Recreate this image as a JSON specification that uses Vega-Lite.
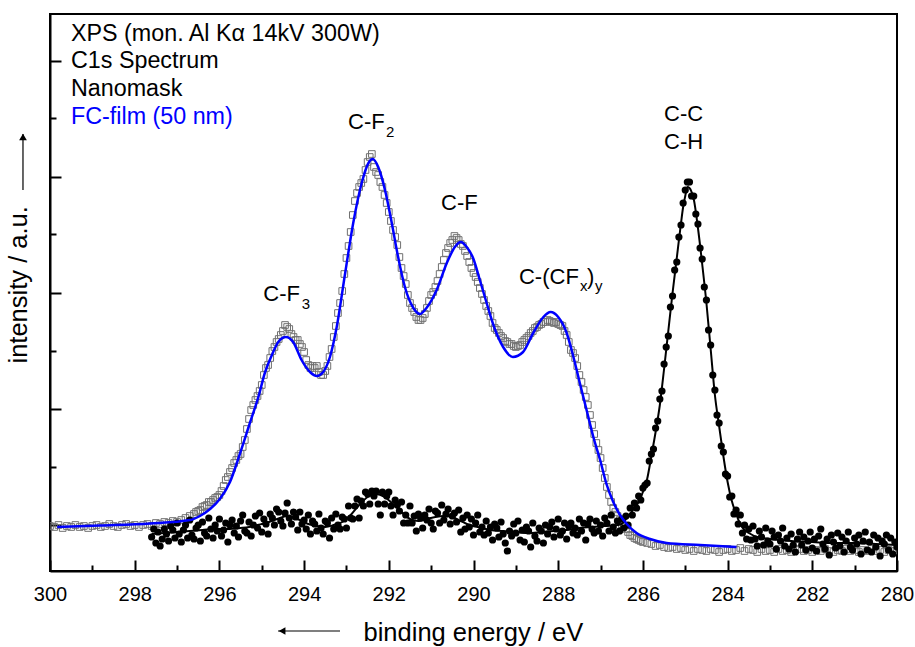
{
"$schema":"https://vega.github.io/schema/vega-lite/v6.json",
"width":847,"height":557,
"autosize":{"type":"none"},
"padding":{"left":50,"top":14,"right":18,"bottom":76},
"background":"white",
"datasets":{
"film":[{"e":300,"i":45},{"e":299.9,"i":44},{"e":299.8,"i":46},{"e":299.7,"i":43},{"e":299.6,"i":45},{"e":299.5,"i":44},{"e":299.4,"i":46},{"e":299.3,"i":44},{"e":299.2,"i":45},{"e":299.1,"i":43},{"e":299,"i":45},{"e":298.9,"i":46},{"e":298.8,"i":44},{"e":298.7,"i":45},{"e":298.6,"i":47},{"e":298.5,"i":45},{"e":298.4,"i":44},{"e":298.3,"i":46},{"e":298.2,"i":47},{"e":298.1,"i":45},{"e":298,"i":46},{"e":297.9,"i":44},{"e":297.8,"i":46},{"e":297.7,"i":47},{"e":297.6,"i":45},{"e":297.5,"i":48},{"e":297.4,"i":47},{"e":297.3,"i":49},{"e":297.2,"i":48},{"e":297.1,"i":50},{"e":297,"i":49},{"e":296.9,"i":51},{"e":296.8,"i":53},{"e":296.7,"i":55},{"e":296.6,"i":57},
{"e":296.55,"i":59},{"e":296.5,"i":60},{"e":296.45,"i":61},{"e":296.4,"i":64},{"e":296.35,"i":65},{"e":296.3,"i":66},{"e":296.25,"i":69},{"e":296.2,"i":69},{"e":296.15,"i":71},{"e":296.1,"i":73},{"e":296.05,"i":74},{"e":296,"i":76},{"e":295.95,"i":80},{"e":295.9,"i":85},{"e":295.85,"i":91},{"e":295.8,"i":94},{"e":295.75,"i":99},{"e":295.7,"i":103},{"e":295.65,"i":108},{"e":295.6,"i":111},{"e":295.55,"i":115},{"e":295.5,"i":117},{"e":295.45,"i":124},{"e":295.4,"i":131},{"e":295.35,"i":142},{"e":295.3,"i":152},{"e":295.25,"i":161},{"e":295.2,"i":166},{"e":295.15,"i":171},{"e":295.1,"i":175},{"e":295.05,"i":180},{"e":295,"i":186},{"e":294.95,"i":196},{"e":294.9,"i":203},{"e":294.85,"i":206},{"e":294.8,"i":213},{"e":294.75,"i":220},{"e":294.7,"i":224},{"e":294.65,"i":229},{"e":294.6,"i":232},{"e":294.55,"i":236},{"e":294.5,"i":240},{"e":294.45,"i":246},{"e":294.4,"i":244},{"e":294.35,"i":242},{"e":294.3,"i":237},{"e":294.25,"i":234},{"e":294.2,"i":231},{"e":294.15,"i":231},{"e":294.1,"i":227},{"e":294.05,"i":224},{"e":294,"i":219},{"e":293.95,"i":211},{"e":293.9,"i":206},{"e":293.85,"i":203},{"e":293.8,"i":205},{"e":293.75,"i":203},{"e":293.7,"i":205},{"e":293.65,"i":199},{"e":293.6,"i":196},{"e":293.55,"i":196},{"e":293.5,"i":200},{"e":293.45,"i":205},{"e":293.4,"i":214},{"e":293.35,"i":222},{"e":293.3,"i":234},{"e":293.25,"i":245},{"e":293.2,"i":258},{"e":293.15,"i":268},{"e":293.1,"i":280},{"e":293.05,"i":297},{"e":293,"i":313},{"e":292.95,"i":325},{"e":292.9,"i":339},{"e":292.85,"i":356},{"e":292.8,"i":370},{"e":292.75,"i":378},{"e":292.7,"i":384},{"e":292.65,"i":388},{"e":292.6,"i":392},{"e":292.55,"i":401},{"e":292.5,"i":409},{"e":292.45,"i":414},{"e":292.4,"i":417},{"e":292.35,"i":404},{"e":292.3,"i":399},{"e":292.25,"i":396},{"e":292.2,"i":389},{"e":292.15,"i":384},{"e":292.1,"i":376},{"e":292.05,"i":368},{"e":292,"i":359},{"e":291.95,"i":350},{"e":291.9,"i":341},{"e":291.85,"i":334},{"e":291.8,"i":326},{"e":291.75,"i":314},{"e":291.7,"i":303},{"e":291.65,"i":295},{"e":291.6,"i":287},{"e":291.55,"i":276},{"e":291.5,"i":268},{"e":291.45,"i":263},{"e":291.4,"i":259},{"e":291.35,"i":254},{"e":291.3,"i":251},{"e":291.25,"i":251},{"e":291.2,"i":253},{"e":291.15,"i":257},{"e":291.1,"i":263},{"e":291.05,"i":270},{"e":291,"i":276},{"e":290.95,"i":279},{"e":290.9,"i":284},{"e":290.85,"i":290},{"e":290.8,"i":297},{"e":290.75,"i":304},{"e":290.7,"i":311},{"e":290.65,"i":318},{"e":290.6,"i":323},{"e":290.55,"i":328},{"e":290.5,"i":331},{"e":290.45,"i":335},{"e":290.4,"i":333},{"e":290.35,"i":331},{"e":290.3,"i":327},{"e":290.25,"i":325},{"e":290.2,"i":320},{"e":290.15,"i":315},{"e":290.1,"i":309},{"e":290.05,"i":303},{"e":290,"i":298},{"e":289.95,"i":294},{"e":289.9,"i":289},{"e":289.85,"i":283},{"e":289.8,"i":277},{"e":289.75,"i":271},{"e":289.7,"i":265},{"e":289.65,"i":260},{"e":289.6,"i":255},{"e":289.55,"i":248},{"e":289.5,"i":243},{"e":289.45,"i":241},{"e":289.4,"i":238},{"e":289.35,"i":235},{"e":289.3,"i":233},{"e":289.25,"i":230},{"e":289.2,"i":229},{"e":289.15,"i":227},{"e":289.1,"i":227},{"e":289.05,"i":225},{"e":289,"i":224},{"e":288.95,"i":225},{"e":288.9,"i":226},{"e":288.85,"i":229},{"e":288.8,"i":231},{"e":288.75,"i":233},{"e":288.7,"i":235},{"e":288.65,"i":238},{"e":288.6,"i":240},{"e":288.55,"i":243},{"e":288.5,"i":244},{"e":288.45,"i":246},{"e":288.4,"i":247},{"e":288.35,"i":249},{"e":288.3,"i":249},{"e":288.25,"i":251},{"e":288.2,"i":250},{"e":288.15,"i":249},{"e":288.1,"i":248},{"e":288.05,"i":249},{"e":288,"i":247},{"e":287.95,"i":246},{"e":287.9,"i":245},{"e":287.85,"i":240},{"e":287.8,"i":236},{"e":287.75,"i":229},{"e":287.7,"i":221},{"e":287.65,"i":218},{"e":287.6,"i":213},{"e":287.55,"i":205},{"e":287.5,"i":196},{"e":287.45,"i":189},{"e":287.4,"i":181},{"e":287.35,"i":174},{"e":287.3,"i":166},{"e":287.25,"i":156},{"e":287.2,"i":146},{"e":287.15,"i":137},{"e":287.1,"i":128},{"e":287.05,"i":121},{"e":287,"i":113},{"e":286.95,"i":103},{"e":286.9,"i":93},{"e":286.85,"i":84},{"e":286.8,"i":76},{"e":286.75,"i":69},{"e":286.7,"i":63},{"e":286.65,"i":59},{"e":286.6,"i":55},{"e":286.55,"i":51},{"e":286.5,"i":47},{"e":286.45,"i":45},{"e":286.4,"i":42},{"e":286.35,"i":39},{"e":286.3,"i":36},{"e":286.25,"i":35},{"e":286.2,"i":33},{"e":286.15,"i":32},{"e":286.1,"i":31},{"e":286.05,"i":30},
{"e":286,"i":29},{"e":285.9,"i":28},{"e":285.8,"i":27},{"e":285.7,"i":25},{"e":285.6,"i":26},{"e":285.5,"i":24},{"e":285.4,"i":23},{"e":285.3,"i":24},{"e":285.2,"i":22},{"e":285.1,"i":23},{"e":285,"i":21},{"e":284.9,"i":22},{"e":284.8,"i":20},{"e":284.7,"i":22},{"e":284.6,"i":21},{"e":284.5,"i":20},{"e":284.4,"i":22},{"e":284.3,"i":21},{"e":284.2,"i":19},{"e":284.1,"i":21},{"e":284,"i":22},{"e":283.9,"i":20},{"e":283.8,"i":21},{"e":283.7,"i":23},{"e":283.6,"i":20},{"e":283.5,"i":22},{"e":283.4,"i":21},{"e":283.3,"i":19},{"e":283.2,"i":22},{"e":283.1,"i":20},{"e":283,"i":21},{"e":282.9,"i":19},{"e":282.8,"i":22},{"e":282.7,"i":20},{"e":282.6,"i":21},{"e":282.5,"i":19},{"e":282.4,"i":21},{"e":282.3,"i":22},{"e":282.2,"i":20},{"e":282.1,"i":21},{"e":282,"i":19},{"e":281.9,"i":21},{"e":281.8,"i":20},{"e":281.7,"i":22},{"e":281.6,"i":20},{"e":281.5,"i":19},{"e":281.4,"i":21},{"e":281.3,"i":20},{"e":281.2,"i":22},{"e":281.1,"i":20},{"e":281,"i":21},{"e":280.9,"i":19},{"e":280.8,"i":21},{"e":280.7,"i":20},{"e":280.6,"i":22},{"e":280.5,"i":20},{"e":280.4,"i":21},{"e":280.3,"i":19},{"e":280.2,"i":21},{"e":280.1,"i":20},{"e":280,"i":21}],
"mask":[{"e":297.6,"i":34},{"e":297.55,"i":42},{"e":297.5,"i":28},{"e":297.45,"i":39},{"e":297.4,"i":25},{"e":297.35,"i":32},{"e":297.3,"i":42},{"e":297.25,"i":37},{"e":297.2,"i":30},{"e":297.15,"i":45},
{"e":297.1,"i":41},{"e":297.05,"i":33},{"e":297,"i":48},{"e":296.95,"i":37},{"e":296.9,"i":29},{"e":296.85,"i":41},{"e":296.8,"i":46},{"e":296.75,"i":33},{"e":296.7,"i":51},{"e":296.65,"i":36},
{"e":296.6,"i":32},{"e":296.55,"i":43},{"e":296.5,"i":46},{"e":296.45,"i":30},{"e":296.4,"i":49},{"e":296.35,"i":38},{"e":296.3,"i":35},{"e":296.25,"i":53},{"e":296.2,"i":42},{"e":296.15,"i":33},
{"e":296.1,"i":46},{"e":296.05,"i":40},{"e":296,"i":52},{"e":295.95,"i":35},{"e":295.9,"i":41},{"e":295.85,"i":48},{"e":295.8,"i":29},{"e":295.75,"i":46},{"e":295.7,"i":51},{"e":295.65,"i":38},
{"e":295.6,"i":45},{"e":295.55,"i":34},{"e":295.5,"i":50},{"e":295.45,"i":56},{"e":295.4,"i":40},{"e":295.35,"i":38},{"e":295.3,"i":49},{"e":295.25,"i":35},{"e":295.2,"i":46},{"e":295.15,"i":55},
{"e":295.1,"i":43},{"e":295.05,"i":58},{"e":295,"i":39},{"e":294.95,"i":52},{"e":294.9,"i":47},{"e":294.85,"i":37},{"e":294.8,"i":57},{"e":294.75,"i":53},{"e":294.7,"i":46},{"e":294.65,"i":62},
{"e":294.6,"i":59},{"e":294.55,"i":50},{"e":294.5,"i":45},{"e":294.45,"i":58},{"e":294.4,"i":68},{"e":294.35,"i":53},{"e":294.3,"i":47},{"e":294.25,"i":59},{"e":294.2,"i":54},{"e":294.15,"i":41},
{"e":294.1,"i":59},{"e":294.05,"i":47},{"e":294,"i":51},{"e":293.95,"i":42},{"e":293.9,"i":56},{"e":293.85,"i":37},{"e":293.8,"i":50},{"e":293.75,"i":47},{"e":293.7,"i":40},{"e":293.65,"i":57},
{"e":293.6,"i":43},{"e":293.55,"i":37},{"e":293.5,"i":50},{"e":293.45,"i":48},{"e":293.4,"i":33},{"e":293.35,"i":53},{"e":293.3,"i":42},{"e":293.25,"i":57},{"e":293.2,"i":46},{"e":293.15,"i":42},
{"e":293.1,"i":54},{"e":293.05,"i":52},{"e":293,"i":43},{"e":292.95,"i":65},{"e":292.9,"i":53},{"e":292.85,"i":52},{"e":292.8,"i":65},{"e":292.75,"i":72},{"e":292.7,"i":53},{"e":292.65,"i":70},
{"e":292.6,"i":65},{"e":292.55,"i":79},{"e":292.5,"i":77},{"e":292.45,"i":67},{"e":292.4,"i":80},{"e":292.35,"i":75},{"e":292.3,"i":80},{"e":292.25,"i":67},{"e":292.2,"i":56},{"e":292.15,"i":79},
{"e":292.1,"i":67},{"e":292.05,"i":75},{"e":292,"i":79},{"e":291.95,"i":65},{"e":291.9,"i":56},{"e":291.85,"i":71},{"e":291.8,"i":66},{"e":291.75,"i":60},{"e":291.7,"i":69},{"e":291.65,"i":48},
{"e":291.6,"i":56},{"e":291.55,"i":48},{"e":291.5,"i":65},{"e":291.45,"i":48},{"e":291.4,"i":55},{"e":291.35,"i":40},{"e":291.3,"i":57},{"e":291.25,"i":53},{"e":291.2,"i":43},{"e":291.15,"i":56},
{"e":291.1,"i":51},{"e":291.05,"i":62},{"e":291,"i":48},{"e":290.95,"i":42},{"e":290.9,"i":60},{"e":290.85,"i":58},{"e":290.8,"i":48},{"e":290.75,"i":66},{"e":290.7,"i":51},{"e":290.65,"i":57},
{"e":290.6,"i":62},{"e":290.55,"i":47},{"e":290.5,"i":55},{"e":290.45,"i":58},{"e":290.4,"i":49},{"e":290.35,"i":61},{"e":290.3,"i":39},{"e":290.25,"i":53},{"e":290.2,"i":42},{"e":290.15,"i":56},
{"e":290.1,"i":44},{"e":290.05,"i":52},{"e":290,"i":36},{"e":289.95,"i":48},{"e":289.9,"i":56},{"e":289.85,"i":39},{"e":289.8,"i":44},{"e":289.75,"i":36},{"e":289.7,"i":50},{"e":289.65,"i":38},
{"e":289.6,"i":44},{"e":289.55,"i":31},{"e":289.5,"i":47},{"e":289.45,"i":43},{"e":289.4,"i":34},{"e":289.35,"i":49},{"e":289.3,"i":37},{"e":289.25,"i":28},{"e":289.2,"i":20},{"e":289.15,"i":40},
{"e":289.1,"i":35},{"e":289.05,"i":47},{"e":289,"i":38},{"e":288.95,"i":50},{"e":288.9,"i":31},{"e":288.85,"i":41},{"e":288.8,"i":29},{"e":288.75,"i":44},{"e":288.7,"i":40},{"e":288.65,"i":24},
{"e":288.6,"i":48},{"e":288.55,"i":35},{"e":288.5,"i":30},{"e":288.45,"i":43},{"e":288.4,"i":40},{"e":288.35,"i":28},{"e":288.3,"i":46},{"e":288.25,"i":37},{"e":288.2,"i":44},{"e":288.15,"i":49},
{"e":288.1,"i":34},{"e":288.05,"i":42},{"e":288,"i":52},{"e":287.95,"i":36},{"e":287.9,"i":40},{"e":287.85,"i":48},{"e":287.8,"i":32},{"e":287.75,"i":45},{"e":287.7,"i":48},{"e":287.65,"i":38},
{"e":287.6,"i":43},{"e":287.55,"i":36},{"e":287.5,"i":52},{"e":287.45,"i":40},{"e":287.4,"i":48},{"e":287.35,"i":31},{"e":287.3,"i":47},{"e":287.25,"i":52},{"e":287.2,"i":42},{"e":287.15,"i":38},
{"e":287.1,"i":50},{"e":287.05,"i":40},{"e":287,"i":46},{"e":286.95,"i":35},{"e":286.9,"i":53},{"e":286.85,"i":48},{"e":286.8,"i":40},{"e":286.75,"i":56},{"e":286.7,"i":44},{"e":286.65,"i":38},
{"e":286.6,"i":50},{"e":286.55,"i":40},
{"e":286.5,"i":52},{"e":286.45,"i":43},{"e":286.4,"i":55},{"e":286.35,"i":46},{"e":286.3,"i":63},{"e":286.25,"i":56},{"e":286.2,"i":68},{"e":286.15,"i":63},{"e":286.1,"i":75},{"e":286.05,"i":71},{"e":286,"i":83},{"e":285.95,"i":86},{"e":285.9,"i":88},{"e":285.85,"i":110},{"e":285.8,"i":117},{"e":285.75,"i":122},{"e":285.7,"i":143},{"e":285.65,"i":150},{"e":285.6,"i":172},{"e":285.55,"i":180},{"e":285.5,"i":207},{"e":285.45,"i":224},{"e":285.4,"i":235},{"e":285.35,"i":264},{"e":285.3,"i":275},{"e":285.25,"i":301},{"e":285.2,"i":309},{"e":285.15,"i":334},{"e":285.1,"i":346},{"e":285.05,"i":368},{"e":285,"i":381},{"e":284.95,"i":389},{"e":284.9,"i":389},{"e":284.85,"i":375},{"e":284.8,"i":375},{"e":284.75,"i":357},{"e":284.7,"i":347},{"e":284.65,"i":323},{"e":284.6,"i":312},{"e":284.55,"i":284},{"e":284.5,"i":271},{"e":284.45,"i":241},{"e":284.4,"i":226},{"e":284.35,"i":196},{"e":284.3,"i":181},{"e":284.25,"i":156},{"e":284.2,"i":148},{"e":284.15,"i":125},{"e":284.1,"i":119},{"e":284.05,"i":97},{"e":284,"i":95},{"e":283.95,"i":74},{"e":283.9,"i":75},{"e":283.85,"i":57},{"e":283.8,"i":61},{"e":283.75,"i":47},{"e":283.7,"i":56},{"e":283.65,"i":38},{"e":283.6,"i":46},{"e":283.55,"i":32},
{"e":283.5,"i":42},{"e":283.45,"i":31},{"e":283.4,"i":45},{"e":283.35,"i":32},{"e":283.3,"i":25},{"e":283.25,"i":40},{"e":283.2,"i":34},{"e":283.15,"i":26},{"e":283.1,"i":43},{"e":283.05,"i":30},{"e":283,"i":27},{"e":282.95,"i":40},{"e":282.9,"i":34},{"e":282.85,"i":22},{"e":282.8,"i":36},{"e":282.75,"i":30},{"e":282.7,"i":43},{"e":282.65,"i":25},{"e":282.6,"i":33},{"e":282.55,"i":22},{"e":282.5,"i":37},{"e":282.45,"i":26},{"e":282.4,"i":19},{"e":282.35,"i":32},{"e":282.3,"i":39},{"e":282.25,"i":26},{"e":282.2,"i":34},{"e":282.15,"i":21},{"e":282.1,"i":30},{"e":282.05,"i":39},{"e":282,"i":23},{"e":281.95,"i":32},{"e":281.9,"i":20},{"e":281.85,"i":35},{"e":281.8,"i":42},{"e":281.75,"i":27},{"e":281.7,"i":22},{"e":281.65,"i":32},{"e":281.6,"i":16},{"e":281.55,"i":36},{"e":281.5,"i":29},{"e":281.45,"i":23},{"e":281.4,"i":38},{"e":281.35,"i":25},{"e":281.3,"i":34},{"e":281.25,"i":19},{"e":281.2,"i":30},{"e":281.15,"i":39},{"e":281.1,"i":24},{"e":281.05,"i":21},{"e":281,"i":33},{"e":280.95,"i":27},{"e":280.9,"i":36},{"e":280.85,"i":17},{"e":280.8,"i":30},{"e":280.75,"i":39},{"e":280.7,"i":21},{"e":280.65,"i":29},{"e":280.6,"i":19},{"e":280.55,"i":36},{"e":280.5,"i":24},{"e":280.45,"i":33},{"e":280.4,"i":15},{"e":280.35,"i":30},{"e":280.3,"i":27},{"e":280.25,"i":36},{"e":280.2,"i":21},{"e":280.15,"i":33},{"e":280.1,"i":17},{"e":280.05,"i":29},{"e":280,"i":24}],
"filmfit":[{"e":299.83,"i":44},{"e":298.82,"i":45.5},{"e":297.64,"i":47.5},{"e":296.69,"i":51},{"e":296.46,"i":55},{"e":296.22,"i":62},{"e":295.99,"i":72},{"e":295.75,"i":89},{"e":295.51,"i":118},{"e":295.28,"i":148},{"e":295.08,"i":174},{"e":294.92,"i":199},{"e":294.77,"i":215},{"e":294.61,"i":229},{"e":294.43,"i":234},{"e":294.26,"i":229},{"e":294.06,"i":211},{"e":293.86,"i":199},{"e":293.7,"i":195},{"e":293.55,"i":199},{"e":293.39,"i":214},{"e":293.23,"i":244},{"e":293.03,"i":298},{"e":292.84,"i":348},{"e":292.64,"i":388},{"e":292.48,"i":408},{"e":292.38,"i":412},{"e":292.25,"i":404},{"e":292.09,"i":381},{"e":291.93,"i":348},{"e":291.78,"i":314},{"e":291.62,"i":284},{"e":291.42,"i":263},{"e":291.26,"i":257},{"e":291.11,"i":263},{"e":290.87,"i":281},{"e":290.63,"i":308},{"e":290.44,"i":324},{"e":290.3,"i":329},{"e":290.16,"i":324},{"e":290.01,"i":313},{"e":289.85,"i":291},{"e":289.69,"i":268},{"e":289.53,"i":246},{"e":289.3,"i":224},{"e":289.07,"i":214},{"e":288.83,"i":219},{"e":288.59,"i":238},{"e":288.35,"i":254},{"e":288.18,"i":259},{"e":288,"i":254},{"e":287.8,"i":238},{"e":287.64,"i":214},{"e":287.49,"i":188},{"e":287.33,"i":161},{"e":287.17,"i":134},{"e":287.01,"i":111},{"e":286.86,"i":87},{"e":286.7,"i":69},{"e":286.54,"i":56},{"e":286.38,"i":47},{"e":286.15,"i":38},{"e":285.83,"i":32},{"e":285.44,"i":28},{"e":284.65,"i":26},{"e":283.79,"i":24}],
"maskfit":[{"e":297.6,"i":37},{"e":297.3,"i":38},{"e":297,"i":39},{"e":296.7,"i":40},{"e":296.4,"i":41},{"e":296.1,"i":42},{"e":295.8,"i":42},{"e":295.5,"i":43},{"e":295.3,"i":44},{"e":295.1,"i":46},{"e":294.9,"i":48},{"e":294.7,"i":51},{"e":294.5,"i":54},{"e":294.4,"i":55},{"e":294.3,"i":54},{"e":294.1,"i":51},{"e":293.9,"i":47},{"e":293.7,"i":45},{"e":293.5,"i":44},{"e":293.3,"i":46},{"e":293.1,"i":49},{"e":292.9,"i":56},{"e":292.7,"i":66},{"e":292.5,"i":74},{"e":292.3,"i":77},{"e":292.1,"i":74},{"e":291.9,"i":67},{"e":291.7,"i":59},{"e":291.5,"i":52},{"e":291.3,"i":50},{"e":291.1,"i":52},{"e":290.9,"i":54},{"e":290.7,"i":55},{"e":290.5,"i":54},{"e":290.3,"i":50},{"e":290.1,"i":46},{"e":289.9,"i":44},{"e":289.6,"i":41},{"e":289.3,"i":40},{"e":289,"i":39},{"e":288.7,"i":38},{"e":288.4,"i":39},{"e":288.1,"i":40},{"e":287.8,"i":41},{"e":287.5,"i":43},{"e":287.2,"i":44},{"e":286.9,"i":45},{"e":286.6,"i":46},{"e":286.5,"i":47},{"e":286.4,"i":52},{"e":286.3,"i":57},{"e":286.2,"i":63},{"e":286.1,"i":69},{"e":286,"i":79},{"e":285.9,"i":92},{"e":285.8,"i":115},{"e":285.7,"i":139},{"e":285.6,"i":166},{"e":285.5,"i":202},{"e":285.4,"i":240},{"e":285.3,"i":278},{"e":285.2,"i":313},{"e":285.1,"i":348},{"e":285.05,"i":364},{"e":285,"i":375},{"e":284.95,"i":384},{"e":284.9,"i":383},{"e":284.85,"i":379},{"e":284.8,"i":372},{"e":284.7,"i":343},{"e":284.6,"i":307},{"e":284.5,"i":268},{"e":284.4,"i":222},{"e":284.3,"i":176},{"e":284.2,"i":145},{"e":284.1,"i":115},{"e":284,"i":89},{"e":283.9,"i":70},{"e":283.8,"i":57},{"e":283.7,"i":47},{"e":283.6,"i":41},{"e":283.5,"i":38},{"e":283.3,"i":34},{"e":283,"i":32},{"e":282.5,"i":30},{"e":282,"i":29},{"e":281.5,"i":28},{"e":281,"i":28},{"e":280.5,"i":27},{"e":280,"i":26}],
"info":[{"e":299.504,"i":530.3,"t":"XPS (mon. Al Kα 14kV 300W)"},{"e":299.504,"i":502.7,"t":"C1s Spectrum"},{"e":299.504,"i":475,"t":"Nanomask"}],
"film_label":[{"e":299.504,"i":447,"t":"FC-film (50 nm)"}],
"labels":[{"e":294.963,"i":270.3,"t":"C-F"},{"e":292.963,"i":442,"t":"C-F"},{"e":290.767,"i":361,"t":"C-F"},{"e":288.926,"i":287,"t":"C-(CF"},{"e":287.32,"i":287,"t":")"},{"e":285.502,"i":450.3,"t":"C-C"},{"e":285.502,"i":421.7,"t":"C-H"}],
"subs":[{"e":294.057,"i":262,"t":"3"},{"e":292.066,"i":434,"t":"2"},{"e":287.485,"i":280,"t":"x"},{"e":287.131,"i":280,"t":"y"}],
"arrow_x":[{"e":294.616,"e2":293.152,"i":-60,"i2":-60}],
"head_x":[{"e":294.52,"i":-60}],
"arrow_y":[{"e":300.638,"e2":300.638,"i":381,"i2":437}],
"head_y":[{"e":300.638,"i":434}]
},
"layer":[
{"data":{"name":"film"},
 "mark":{"type":"point","shape":"square","filled":false,"size":44,"stroke":"#707070","strokeWidth":1,"opacity":1,"clip":true},
 "encoding":{
  "x":{"field":"e","type":"quantitative","scale":{"domain":[280,300],"reverse":true,"nice":false,"zero":false},
   "axis":{"orient":"bottom","values":[280,282,284,286,288,290,292,294,296,298,300],"format":"d","tickSize":-11,"labelFontSize":20,"labelPadding":24,"labelFlush":false,"labelOverlap":false,"title":"binding energy / eV","titleFontSize":25.5,"titleFontWeight":"normal","titleAlign":"left","titleBaseline":"alphabetic","titleAnchor":"start","titleX":313,"titleY":69}},
  "y":{"field":"i","type":"quantitative","scale":{"domain":[0,557],"nice":false,"zero":false},
   "axis":{"orient":"left","values":[46,162,278,394,510],"tickSize":-11,"labels":false,"title":"intensity / a.u.","titleFontSize":25.5,"titleFontWeight":"normal","titleAngle":270,"titleAlign":"left","titleBaseline":"alphabetic","titleAnchor":"start","titleX":-24,"titleY":349}}
 }},
{"data":{"name":"mask"},
 "mark":{"type":"circle","size":52,"color":"black","opacity":1,"clip":true},
 "encoding":{
  "x":{"field":"e","type":"quantitative","axis":{"orient":"bottom","values":[281,283,285,287,289,291,293,295,297,299],"tickSize":-6,"labels":false,"domain":false,"title":null}},
  "y":{"field":"i","type":"quantitative","axis":{"orient":"left","values":[104,220,337,453],"tickSize":-6,"labels":false,"domain":false,"title":null}}
 }},
{"data":{"name":"maskfit"},
 "mark":{"type":"line","color":"black","strokeWidth":2,"interpolate":"monotone","clip":true},
 "encoding":{"x":{"field":"e","type":"quantitative","axis":null},"y":{"field":"i","type":"quantitative","axis":null},"order":{"field":"e","sort":"descending"}}},
{"data":{"name":"filmfit"},
 "mark":{"type":"line","color":"#0000ff","strokeWidth":2.5,"interpolate":"monotone","clip":true},
 "encoding":{"x":{"field":"e","type":"quantitative","axis":null},"y":{"field":"i","type":"quantitative","axis":null},"order":{"field":"e","sort":"descending"}}},
{"data":{"name":"info"},
 "mark":{"type":"text","align":"left","baseline":"alphabetic","fontSize":23.3,"color":"black"},
 "encoding":{"x":{"field":"e","type":"quantitative","axis":null},"y":{"field":"i","type":"quantitative","axis":null},"text":{"field":"t"}}},
{"data":{"name":"film_label"},
 "mark":{"type":"text","align":"left","baseline":"alphabetic","fontSize":23.3,"color":"#0000ff"},
 "encoding":{"x":{"field":"e","type":"quantitative","axis":null},"y":{"field":"i","type":"quantitative","axis":null},"text":{"field":"t"}}},
{"data":{"name":"labels"},
 "mark":{"type":"text","align":"left","baseline":"alphabetic","fontSize":22,"color":"black"},
 "encoding":{"x":{"field":"e","type":"quantitative","axis":null},"y":{"field":"i","type":"quantitative","axis":null},"text":{"field":"t"}}},
{"data":{"name":"subs"},
 "mark":{"type":"text","align":"left","baseline":"alphabetic","fontSize":15,"color":"black"},
 "encoding":{"x":{"field":"e","type":"quantitative","axis":null},"y":{"field":"i","type":"quantitative","axis":null},"text":{"field":"t"}}},
{"data":{"name":"arrow_x"},
 "mark":{"type":"rule","color":"black","strokeWidth":1.2},
 "encoding":{"x":{"field":"e","type":"quantitative","axis":null},"x2":{"field":"e2"},"y":{"field":"i","type":"quantitative","axis":null},"y2":{"field":"i2"}}},
{"data":{"name":"head_x"},
 "mark":{"type":"point","shape":"triangle-left","filled":true,"size":60,"color":"black","opacity":1},
 "encoding":{"x":{"field":"e","type":"quantitative","axis":null},"y":{"field":"i","type":"quantitative","axis":null}}},
{"data":{"name":"arrow_y"},
 "mark":{"type":"rule","color":"black","strokeWidth":1.2},
 "encoding":{"x":{"field":"e","type":"quantitative","axis":null},"x2":{"field":"e2"},"y":{"field":"i","type":"quantitative","axis":null},"y2":{"field":"i2"}}},
{"data":{"name":"head_y"},
 "mark":{"type":"point","shape":"triangle-up","filled":true,"size":60,"color":"black","opacity":1},
 "encoding":{"x":{"field":"e","type":"quantitative","axis":null},"y":{"field":"i","type":"quantitative","axis":null}}}
],
"resolve":{"axis":{"x":"independent","y":"independent"}},
"config":{
 "font":"Liberation Sans",
 "view":{"stroke":"black","strokeWidth":2},
 "axis":{"domainColor":"black","domainWidth":2,"tickColor":"black","tickWidth":2,"labelColor":"black","titleColor":"black","grid":false,"labelFont":"Liberation Sans","titleFont":"Liberation Sans"}
}
}
